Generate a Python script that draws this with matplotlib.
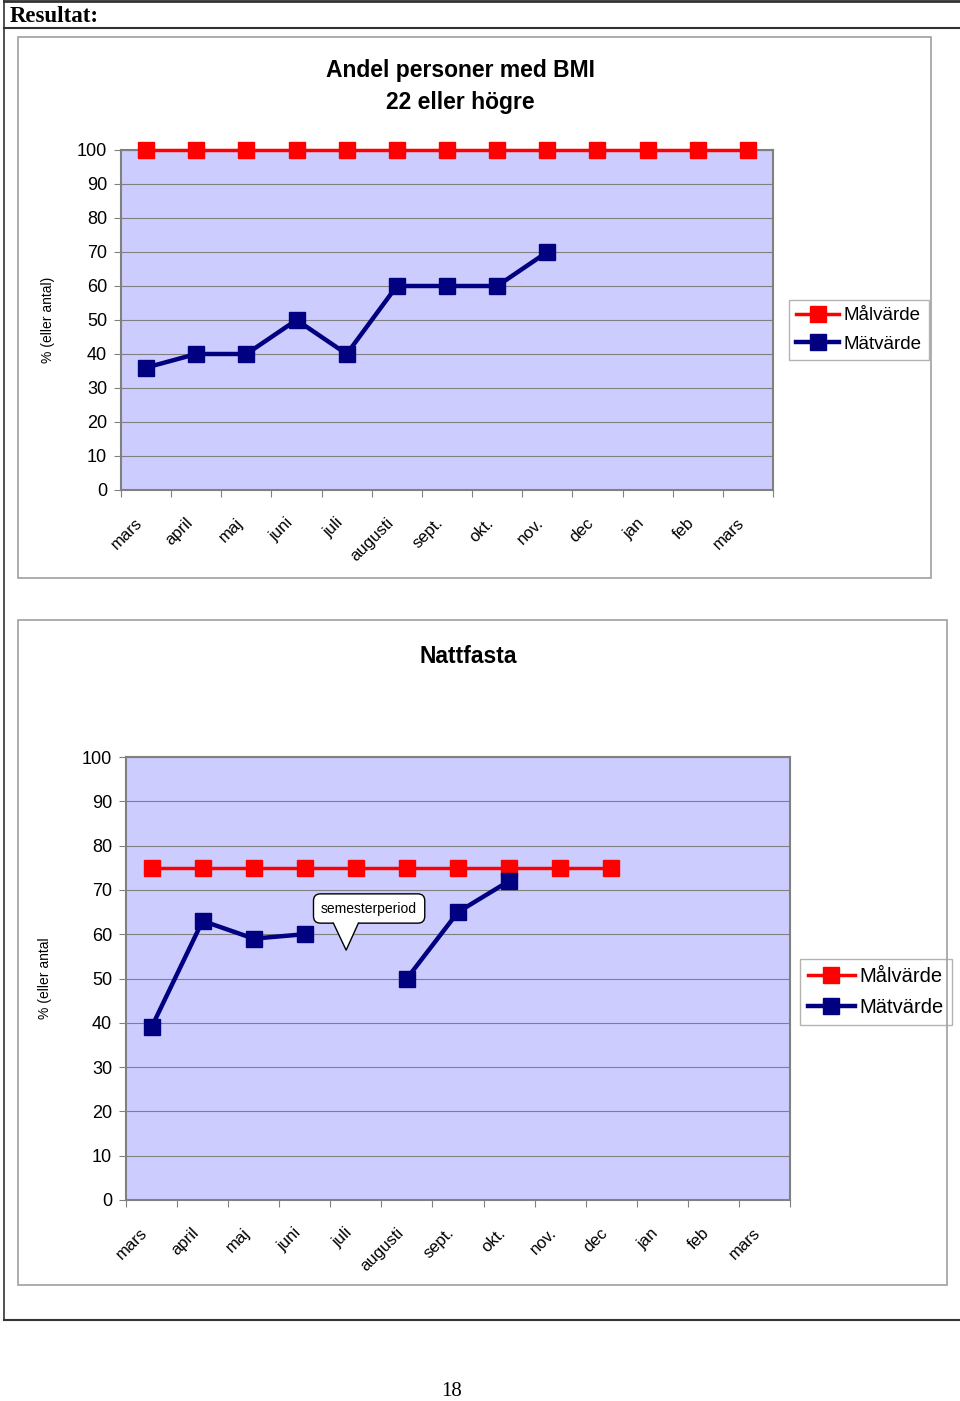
import numpy as np
import matplotlib.pyplot as plt
from matplotlib.patches import Rectangle, Polygon
from matplotlib.lines import Line2D

# data
months = ['mars', 'april', 'maj', 'juni', 'juli', 'augusti', 'sept.', 'okt.',
          'nov.', 'dec', 'jan', 'feb', 'mars']

bmi_mal = [100] * 13
bmi_mat = [36, 40, 40, 50, 40, 60, 60, 60, 70]

natt_mal = [75] * 10
natt_mat = [39, 63, 59, 60, np.nan, 50, 65, 72]

W, H = 960, 1401
SANS = ['Liberation Sans', 'DejaVu Sans']
plt.rcParams['font.family'] = SANS

fig = plt.figure(figsize=(W / 100, H / 100), dpi=100)


def px_rect(x0, y0, x1, y1):
    return [x0 / W, 1 - y1 / H, (x1 - x0) / W, (y1 - y0) / H]


# page lines
def hline(y, x0, x1, lw=1.5, c='#333333'):
    fig.add_artist(Line2D([x0 / W, x1 / W], [1 - y / H, 1 - y / H], color=c, lw=lw))


def vline(x, y0, y1, lw=1.2, c='#333333'):
    fig.add_artist(Line2D([x / W, x / W], [1 - y0 / H, 1 - y1 / H], color=c, lw=lw))


hline(1, 4, 960, lw=2)
hline(28, 4, 960, lw=1.5)
hline(1320, 4, 960, lw=1.5)
vline(4, 0, 1320)
fig.text(10 / W, 1 - 16 / H, 'Resultat:', family='Liberation Serif', weight='bold',
         fontsize=16.5, va='center', ha='left')
fig.text(452 / W, 1 - 1391 / H, '18', family='Liberation Serif', fontsize=15,
         va='center', ha='center')

# chart boxes
for (x0, y0, x1, y1) in [(18, 37, 931, 578), (18, 620, 947, 1285)]:
    fig.add_artist(Rectangle((x0 / W, 1 - y1 / H), (x1 - x0) / W, (y1 - y0) / H,
                             transform=fig.transFigure, fill=False,
                             ec='#a0a0a0', lw=1.2))

RED = '#ff0000'
BLUE = '#000080'


def draw_chart(rect, mal, mat, title, ylabel, ylab_x, title_pos, leg_center, leg_fs):
    ax = fig.add_axes(px_rect(*rect))
    ax.set_facecolor('#ccccff')
    x = np.arange(len(months))
    ax.plot(x[:len(mal)], mal, color=RED, lw=2.5, marker='s', ms=11,
            mec=RED, mfc=RED, clip_on=False, zorder=4, label='Målvärde')
    ax.plot(x[:len(mat)], mat, color=BLUE, lw=3.2, marker='s', ms=11,
            mec=BLUE, mfc=BLUE, clip_on=False, zorder=5, label='Mätvärde')
    ax.set_xlim(-0.5, len(months) - 0.5)
    ax.set_ylim(0, 100)
    ax.set_yticks(np.arange(0, 101, 10))
    ax.yaxis.grid(True, color='#808080', lw=0.8)
    ax.set_axisbelow(True)
    ax.set_xticks(np.arange(-0.5, len(months) - 0.4, 1))
    ax.set_xticklabels([])
    # labels sit slightly left of the category centre, as in the original
    ax.set_xticks(x - 0.12, minor=True)
    ax.set_xticklabels(months, minor=True, rotation=45, ha='right', va='center',
                       rotation_mode='anchor', fontsize=12)
    ax.tick_params(axis='x', which='minor', length=0, pad=22)
    ax.tick_params(axis='x', which='major', length=5, color='#808080')
    ax.tick_params(axis='y', length=5, color='#808080', labelsize=13, pad=5)
    for s in ax.spines.values():
        s.set_color('#808080')
        s.set_linewidth(1.5)
    fig.text(ylab_x / W, 1 - (rect[1] + rect[3]) / 2 / H, ylabel, rotation=90,
             fontsize=10, ha='center', va='center')
    for i, line in enumerate(title.split('\n')):
        fig.text(title_pos[0] / W, 1 - title_pos[1 + i] / H, line, fontsize=16.5,
                 weight='bold', ha='center', va='center')
    leg = ax.legend(loc='center', bbox_to_anchor=(leg_center[0] / W, 1 - leg_center[1] / H),
                    bbox_transform=fig.transFigure, fontsize=leg_fs, frameon=True,
                    fancybox=False, edgecolor='#a0a0a0', handlelength=2.3,
                    borderpad=0.4, labelspacing=0.6, handletextpad=0.25,
                    borderaxespad=0)
    leg.get_frame().set_linewidth(1.0)
    return ax


ax1 = draw_chart((121, 150, 773, 490), bmi_mal, bmi_mat,
                 'Andel personer med BMI\n22 eller högre', '% (eller antal)',
                 48, (460, 71, 103), (859, 330), 13.5)

ax2 = draw_chart((126, 757, 790, 1200), natt_mal, natt_mat,
                 'Nattfasta', '% (eller antal',
                 45, (468, 656), (876, 992), 14.5)

# callout bubble (text box + pointer)
callout_text = (4.26, 65.8)
pointer_base = (3.56, 4.05, 62.5)
pointer_tip = (3.81, 56.4)
ax2.text(*callout_text, 'semesterperiod', ha='center', va='center', fontsize=10,
         bbox=dict(boxstyle='round,pad=0.55,rounding_size=0.5', fc='white',
                   ec='black', lw=1), zorder=6)
x0, x1, yb = pointer_base
ax2.add_patch(Polygon([(x0, yb + 0.7), (x0, yb), pointer_tip, (x1, yb), (x1, yb + 0.7)],
                      closed=True, fc='white', ec='none', zorder=7))
ax2.plot([x0, pointer_tip[0], x1], [yb, pointer_tip[1], yb], color='black', lw=1,
         zorder=8)

fig.savefig('out.png', dpi=100)
